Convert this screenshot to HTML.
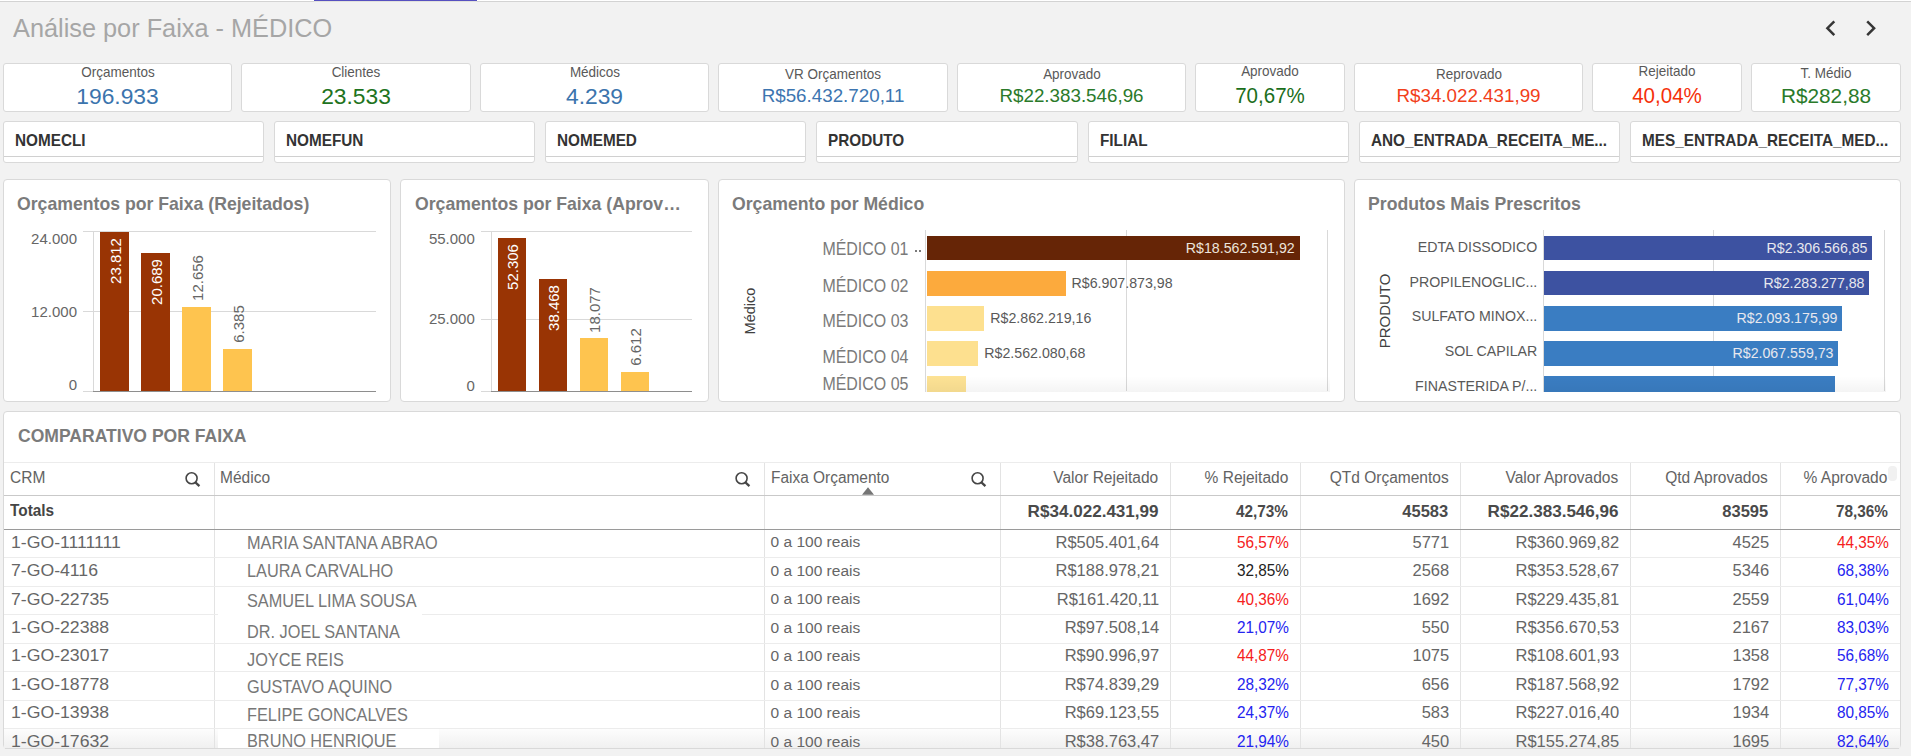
<!DOCTYPE html>
<html><head><meta charset="utf-8"><style>
html,body{margin:0;padding:0;}
body{width:1911px;height:756px;overflow:hidden;background:#f2f2f2;position:relative;font-family:"Liberation Sans", sans-serif;}
.t{position:absolute;white-space:nowrap;line-height:1;}
.r{position:absolute;}
.bx{position:absolute;box-sizing:border-box;background:#fff;border:1px solid #d9d9d9;border-radius:3px;}
</style></head><body>
<div class="r" style="left:0.00px;top:0.00px;width:1911.00px;height:1.00px;background:#ffffff;"></div>
<div class="r" style="left:0.00px;top:1.00px;width:1911.00px;height:1.00px;background:#d3d3d3;"></div>
<div class="r" style="left:314.00px;top:0.00px;width:163.00px;height:1.00px;background:#5650c0;"></div>
<div class="r" style="left:314.00px;top:1.00px;width:163.00px;height:1.00px;background:#e2e2dc;"></div>
<div class="t" style="top:14.56px;font-family:'Liberation Sans', sans-serif;font-size:26.5px;color:#a6a6a6;left:13.00px;transform:scaleX(0.955);transform-origin:left;">Análise por Faixa - MÉDICO</div>
<svg class="r" style="left:1815px;top:10px" width="70" height="35" viewBox="1815 10 70 35"><path d="M1834.3 21.3 L1827.4 28.2 L1834.3 35.1" fill="none" stroke="#363636" stroke-width="2.5"/><path d="M1867.2 21.3 L1874.1 28.2 L1867.2 35.1" fill="none" stroke="#363636" stroke-width="2.5"/></svg>
<div class="bx" style="left:3px;top:63px;width:229px;height:49px;"></div>
<div class="t" style="top:65.42px;font-family:'Liberation Sans', sans-serif;font-size:14.5px;color:#595959;left:-482.50px;width:1200px;text-align:center;transform:scaleX(0.93);transform-origin:center;">Orçamentos</div>
<div class="t" style="top:85.20px;font-family:'Liberation Sans', sans-serif;font-size:22.8px;color:#3b74ad;left:-482.50px;width:1200px;text-align:center;">196.933</div>
<div class="bx" style="left:241px;top:63px;width:230px;height:49px;"></div>
<div class="t" style="top:65.42px;font-family:'Liberation Sans', sans-serif;font-size:14.5px;color:#595959;left:-244.00px;width:1200px;text-align:center;transform:scaleX(0.93);transform-origin:center;">Clientes</div>
<div class="t" style="top:85.20px;font-family:'Liberation Sans', sans-serif;font-size:22.8px;color:#1e7320;left:-244.00px;width:1200px;text-align:center;">23.533</div>
<div class="bx" style="left:480px;top:63px;width:229px;height:49px;"></div>
<div class="t" style="top:65.42px;font-family:'Liberation Sans', sans-serif;font-size:14.5px;color:#595959;left:-5.50px;width:1200px;text-align:center;transform:scaleX(0.93);transform-origin:center;">Médicos</div>
<div class="t" style="top:85.20px;font-family:'Liberation Sans', sans-serif;font-size:22.8px;color:#3b74ad;left:-5.50px;width:1200px;text-align:center;">4.239</div>
<div class="bx" style="left:718px;top:63px;width:230px;height:49px;"></div>
<div class="t" style="top:67.32px;font-family:'Liberation Sans', sans-serif;font-size:14.5px;color:#595959;left:233.00px;width:1200px;text-align:center;transform:scaleX(0.93);transform-origin:center;">VR Orçamentos</div>
<div class="t" style="top:86.88px;font-family:'Liberation Sans', sans-serif;font-size:18.8px;color:#3d75b0;left:233.00px;width:1200px;text-align:center;">R$56.432.720,11</div>
<div class="bx" style="left:957px;top:63px;width:229px;height:49px;"></div>
<div class="t" style="top:67.32px;font-family:'Liberation Sans', sans-serif;font-size:14.5px;color:#595959;left:471.50px;width:1200px;text-align:center;transform:scaleX(0.93);transform-origin:center;">Aprovado</div>
<div class="t" style="top:86.68px;font-family:'Liberation Sans', sans-serif;font-size:18.8px;color:#2a7a2a;left:471.50px;width:1200px;text-align:center;">R$22.383.546,96</div>
<div class="bx" style="left:1195px;top:63px;width:150px;height:49px;"></div>
<div class="t" style="top:64.42px;font-family:'Liberation Sans', sans-serif;font-size:14.5px;color:#595959;left:670.00px;width:1200px;text-align:center;transform:scaleX(0.93);transform-origin:center;">Aprovado</div>
<div class="t" style="top:84.20px;font-family:'Liberation Sans', sans-serif;font-size:22.8px;color:#1b6e1b;left:670.00px;width:1200px;text-align:center;transform:scaleX(0.9);transform-origin:center;">70,67%</div>
<div class="bx" style="left:1354px;top:63px;width:229px;height:49px;"></div>
<div class="t" style="top:67.32px;font-family:'Liberation Sans', sans-serif;font-size:14.5px;color:#595959;left:868.50px;width:1200px;text-align:center;transform:scaleX(0.93);transform-origin:center;">Reprovado</div>
<div class="t" style="top:86.68px;font-family:'Liberation Sans', sans-serif;font-size:18.8px;color:#f2401a;left:868.50px;width:1200px;text-align:center;">R$34.022.431,99</div>
<div class="bx" style="left:1592px;top:63px;width:150px;height:49px;"></div>
<div class="t" style="top:64.42px;font-family:'Liberation Sans', sans-serif;font-size:14.5px;color:#595959;left:1067.00px;width:1200px;text-align:center;transform:scaleX(0.93);transform-origin:center;">Rejeitado</div>
<div class="t" style="top:84.20px;font-family:'Liberation Sans', sans-serif;font-size:22.8px;color:#f5300a;left:1067.00px;width:1200px;text-align:center;transform:scaleX(0.9);transform-origin:center;">40,04%</div>
<div class="bx" style="left:1751px;top:63px;width:150px;height:49px;"></div>
<div class="t" style="top:66.42px;font-family:'Liberation Sans', sans-serif;font-size:14.5px;color:#595959;left:1226.00px;width:1200px;text-align:center;transform:scaleX(0.93);transform-origin:center;">T. Médio</div>
<div class="t" style="top:86.19px;font-family:'Liberation Sans', sans-serif;font-size:20.8px;color:#2a7a2a;left:1226.00px;width:1200px;text-align:center;">R$282,88</div>
<div class="bx" style="left:3px;top:121px;width:261px;height:42px;"></div>
<div class="r" style="left:4.00px;top:156.00px;width:259.00px;height:1.00px;background:#d0d0d0;"></div>
<div class="t" style="top:131.80px;font-family:'Liberation Sans', sans-serif;font-size:16.3px;color:#333333;font-weight:bold;left:14.50px;transform:scaleX(0.94);transform-origin:left;">NOMECLI</div>
<div class="bx" style="left:274px;top:121px;width:261px;height:42px;"></div>
<div class="r" style="left:275.00px;top:156.00px;width:259.00px;height:1.00px;background:#d0d0d0;"></div>
<div class="t" style="top:131.80px;font-family:'Liberation Sans', sans-serif;font-size:16.3px;color:#333333;font-weight:bold;left:285.50px;transform:scaleX(0.94);transform-origin:left;">NOMEFUN</div>
<div class="bx" style="left:545px;top:121px;width:261px;height:42px;"></div>
<div class="r" style="left:546.00px;top:156.00px;width:259.00px;height:1.00px;background:#d0d0d0;"></div>
<div class="t" style="top:131.80px;font-family:'Liberation Sans', sans-serif;font-size:16.3px;color:#333333;font-weight:bold;left:556.50px;transform:scaleX(0.94);transform-origin:left;">NOMEMED</div>
<div class="bx" style="left:816px;top:121px;width:262px;height:42px;"></div>
<div class="r" style="left:817.00px;top:156.00px;width:260.00px;height:1.00px;background:#d0d0d0;"></div>
<div class="t" style="top:131.80px;font-family:'Liberation Sans', sans-serif;font-size:16.3px;color:#333333;font-weight:bold;left:827.50px;transform:scaleX(0.94);transform-origin:left;">PRODUTO</div>
<div class="bx" style="left:1088px;top:121px;width:261px;height:42px;"></div>
<div class="r" style="left:1089.00px;top:156.00px;width:259.00px;height:1.00px;background:#d0d0d0;"></div>
<div class="t" style="top:131.80px;font-family:'Liberation Sans', sans-serif;font-size:16.3px;color:#333333;font-weight:bold;left:1099.50px;transform:scaleX(0.94);transform-origin:left;">FILIAL</div>
<div class="bx" style="left:1359px;top:121px;width:261px;height:42px;"></div>
<div class="r" style="left:1360.00px;top:156.00px;width:259.00px;height:1.00px;background:#d0d0d0;"></div>
<div class="t" style="top:131.80px;font-family:'Liberation Sans', sans-serif;font-size:16.3px;color:#333333;font-weight:bold;left:1370.50px;transform:scaleX(0.94);transform-origin:left;">ANO_ENTRADA_RECEITA_ME...</div>
<div class="bx" style="left:1630px;top:121px;width:271px;height:42px;"></div>
<div class="r" style="left:1631.00px;top:156.00px;width:269.00px;height:1.00px;background:#d0d0d0;"></div>
<div class="t" style="top:131.80px;font-family:'Liberation Sans', sans-serif;font-size:16.3px;color:#333333;font-weight:bold;left:1641.50px;transform:scaleX(0.94);transform-origin:left;">MES_ENTRADA_RECEITA_MED...</div>
<div class="bx" style="left:3px;top:179px;width:388px;height:223px;border-radius:4px;"></div>
<div class="bx" style="left:400px;top:179px;width:309px;height:223px;border-radius:4px;"></div>
<div class="bx" style="left:718px;top:179px;width:627px;height:223px;border-radius:4px;"></div>
<div class="bx" style="left:1354px;top:179px;width:547px;height:223px;border-radius:4px;"></div>
<div class="t" style="top:195.14px;font-family:'Liberation Sans', sans-serif;font-size:18.5px;color:#7b7b7b;font-weight:bold;left:17.00px;transform:scaleX(0.954);transform-origin:left;">Orçamentos por Faixa (Rejeitados)</div>
<div class="r" style="left:83.00px;top:230.50px;width:293.00px;height:1.00px;background:#d9d9d9;"></div>
<div class="r" style="left:83.00px;top:311.40px;width:293.00px;height:1.00px;background:#d9d9d9;"></div>
<div class="r" style="left:93.00px;top:230.50px;width:1.00px;height:160.90px;background:#d9d9d9;"></div>
<div class="r" style="left:83.00px;top:391.40px;width:10.00px;height:1.00px;background:#d9d9d9;"></div>
<div class="r" style="left:93.00px;top:391.40px;width:283.00px;height:1.00px;background:#8e8e8e;"></div>
<div class="t" style="top:230.90px;font-family:'Liberation Sans', sans-serif;font-size:15px;color:#666666;right:1834.00px;">24.000</div>
<div class="t" style="top:304.00px;font-family:'Liberation Sans', sans-serif;font-size:15px;color:#666666;right:1834.00px;">12.000</div>
<div class="t" style="top:377.00px;font-family:'Liberation Sans', sans-serif;font-size:15px;color:#666666;right:1834.00px;">0</div>
<div class="r" style="left:100.00px;top:231.76px;width:29.00px;height:159.64px;background:#993404;"></div>
<div class="t" style="left:114.50px;top:260.71px;font-family:'Liberation Sans', sans-serif;font-size:15px;color:#ffffff;transform:translate(-50%,-50%) rotate(-90deg);">23.812</div>
<div class="r" style="left:141.00px;top:252.70px;width:29.00px;height:138.70px;background:#993404;"></div>
<div class="t" style="left:155.50px;top:281.65px;font-family:'Liberation Sans', sans-serif;font-size:15px;color:#ffffff;transform:translate(-50%,-50%) rotate(-90deg);">20.689</div>
<div class="r" style="left:182.00px;top:306.55px;width:29.00px;height:84.85px;background:#fec44f;"></div>
<div class="t" style="left:196.50px;top:277.60px;font-family:'Liberation Sans', sans-serif;font-size:15px;color:#666666;transform:translate(-50%,-50%) rotate(-90deg);">12.656</div>
<div class="r" style="left:223.00px;top:348.59px;width:29.00px;height:42.81px;background:#fec44f;"></div>
<div class="t" style="left:237.50px;top:323.81px;font-family:'Liberation Sans', sans-serif;font-size:15px;color:#666666;transform:translate(-50%,-50%) rotate(-90deg);">6.385</div>
<div class="t" style="top:195.14px;font-family:'Liberation Sans', sans-serif;font-size:18.5px;color:#7b7b7b;font-weight:bold;left:415.00px;transform:scaleX(0.954);transform-origin:left;">Orçamentos por Faixa (Aprov…</div>
<div class="r" style="left:481.00px;top:230.50px;width:211.00px;height:1.00px;background:#d9d9d9;"></div>
<div class="r" style="left:481.00px;top:319.20px;width:211.00px;height:1.00px;background:#d9d9d9;"></div>
<div class="r" style="left:491.00px;top:230.50px;width:1.00px;height:160.80px;background:#d9d9d9;"></div>
<div class="r" style="left:481.00px;top:391.30px;width:10.00px;height:1.00px;background:#d9d9d9;"></div>
<div class="r" style="left:491.00px;top:391.30px;width:201.00px;height:1.00px;background:#8e8e8e;"></div>
<div class="t" style="top:231.30px;font-family:'Liberation Sans', sans-serif;font-size:15px;color:#666666;right:1436.20px;">55.000</div>
<div class="t" style="top:311.10px;font-family:'Liberation Sans', sans-serif;font-size:15px;color:#666666;right:1436.20px;">25.000</div>
<div class="t" style="top:377.70px;font-family:'Liberation Sans', sans-serif;font-size:15px;color:#666666;right:1436.20px;">0</div>
<div class="r" style="left:497.50px;top:238.38px;width:28.00px;height:152.92px;background:#993404;"></div>
<div class="t" style="left:511.50px;top:267.33px;font-family:'Liberation Sans', sans-serif;font-size:15px;color:#ffffff;transform:translate(-50%,-50%) rotate(-90deg);">52.306</div>
<div class="r" style="left:538.50px;top:278.83px;width:28.00px;height:112.47px;background:#993404;"></div>
<div class="t" style="left:552.50px;top:307.78px;font-family:'Liberation Sans', sans-serif;font-size:15px;color:#ffffff;transform:translate(-50%,-50%) rotate(-90deg);">38.468</div>
<div class="r" style="left:579.50px;top:338.45px;width:28.00px;height:52.85px;background:#fec44f;"></div>
<div class="t" style="left:593.50px;top:309.50px;font-family:'Liberation Sans', sans-serif;font-size:15px;color:#666666;transform:translate(-50%,-50%) rotate(-90deg);">18.077</div>
<div class="r" style="left:621.00px;top:371.97px;width:28.00px;height:19.33px;background:#fec44f;"></div>
<div class="t" style="left:635.00px;top:347.19px;font-family:'Liberation Sans', sans-serif;font-size:15px;color:#666666;transform:translate(-50%,-50%) rotate(-90deg);">6.612</div>
<div class="t" style="top:195.14px;font-family:'Liberation Sans', sans-serif;font-size:18.5px;color:#7b7b7b;font-weight:bold;left:732.00px;transform:scaleX(0.954);transform-origin:left;">Orçamento por Médico</div>
<div class="t" style="left:749.80px;top:311.00px;font-family:'Liberation Sans', sans-serif;font-size:14.5px;color:#404040;transform:translate(-50%,-50%) rotate(-90deg);">Médico</div>
<div class="r" style="left:925.00px;top:230.30px;width:1.00px;height:161.70px;background:#d9d9d9;"></div>
<div class="r" style="left:1126.20px;top:230.30px;width:1.00px;height:161.00px;background:#d9d9d9;"></div>
<div class="r" style="left:1327.40px;top:230.30px;width:1.00px;height:161.00px;background:#d9d9d9;"></div>
<div class="t" style="top:239.11px;font-family:'Liberation Sans', sans-serif;font-size:19px;color:#7a7a7a;right:1003.00px;transform:scaleX(0.84);transform-origin:right;">MÉDICO 01</div>
<div class="r" style="left:927.00px;top:236.20px;width:372.70px;height:24.30px;background:#662506;"></div>
<div class="t" style="top:241.13px;font-family:'Liberation Sans', sans-serif;font-size:14.2px;color:#ece4dc;right:616.30px;">R$18.562.591,92</div>
<div class="t" style="top:275.81px;font-family:'Liberation Sans', sans-serif;font-size:19px;color:#7a7a7a;right:1003.00px;transform:scaleX(0.84);transform-origin:right;">MÉDICO 02</div>
<div class="r" style="left:927.00px;top:271.20px;width:138.60px;height:24.50px;background:#fcaa3d;"></div>
<div class="t" style="top:276.23px;font-family:'Liberation Sans', sans-serif;font-size:14.2px;color:#595959;left:1071.60px;">R$6.907.873,98</div>
<div class="t" style="top:310.61px;font-family:'Liberation Sans', sans-serif;font-size:19px;color:#7a7a7a;right:1003.00px;transform:scaleX(0.84);transform-origin:right;">MÉDICO 03</div>
<div class="r" style="left:927.00px;top:306.20px;width:57.30px;height:24.50px;background:#fde08f;"></div>
<div class="t" style="top:311.23px;font-family:'Liberation Sans', sans-serif;font-size:14.2px;color:#595959;left:990.30px;">R$2.862.219,16</div>
<div class="t" style="top:346.81px;font-family:'Liberation Sans', sans-serif;font-size:19px;color:#7a7a7a;right:1003.00px;transform:scaleX(0.84);transform-origin:right;">MÉDICO 04</div>
<div class="r" style="left:927.00px;top:341.00px;width:51.30px;height:24.70px;background:#fde08f;"></div>
<div class="t" style="top:346.13px;font-family:'Liberation Sans', sans-serif;font-size:14.2px;color:#595959;left:984.30px;">R$2.562.080,68</div>
<div class="t" style="top:374.11px;font-family:'Liberation Sans', sans-serif;font-size:19px;color:#7a7a7a;right:1003.00px;transform:scaleX(0.84);transform-origin:right;">MÉDICO 05</div>
<div class="r" style="left:927.00px;top:376.00px;width:38.70px;height:16.00px;background:#fde294;"></div>
<div class="r" style="left:915.00px;top:249.50px;width:2.00px;height:2.00px;background:#7a7a7a;"></div>
<div class="r" style="left:919.00px;top:249.50px;width:2.00px;height:2.00px;background:#7a7a7a;"></div>
<div class="t" style="top:195.14px;font-family:'Liberation Sans', sans-serif;font-size:18.5px;color:#7b7b7b;font-weight:bold;left:1368.00px;transform:scaleX(0.954);transform-origin:left;">Produtos Mais Prescritos</div>
<div class="t" style="left:1384.40px;top:311.40px;font-family:'Liberation Sans', sans-serif;font-size:15px;color:#404040;transform:translate(-50%,-50%) rotate(-90deg);">PRODUTO</div>
<div class="r" style="left:1542.50px;top:230.30px;width:1.00px;height:161.70px;background:#d9d9d9;"></div>
<div class="r" style="left:1713.00px;top:230.30px;width:1.00px;height:161.00px;background:#d9d9d9;"></div>
<div class="r" style="left:1884.40px;top:230.30px;width:1.00px;height:161.00px;background:#d9d9d9;"></div>
<div class="t" style="top:239.78px;font-family:'Liberation Sans', sans-serif;font-size:14.2px;color:#595959;right:373.70px;">EDTA DISSODICO</div>
<div class="r" style="left:1544.00px;top:235.90px;width:328.00px;height:24.50px;background:#3d52a1;"></div>
<div class="t" style="top:240.93px;font-family:'Liberation Sans', sans-serif;font-size:14.2px;color:#e8e8ee;right:43.50px;">R$2.306.566,85</div>
<div class="t" style="top:274.78px;font-family:'Liberation Sans', sans-serif;font-size:14.2px;color:#595959;right:373.70px;">PROPILENOGLIC...</div>
<div class="r" style="left:1544.00px;top:270.90px;width:325.00px;height:24.50px;background:#3d52a1;"></div>
<div class="t" style="top:275.93px;font-family:'Liberation Sans', sans-serif;font-size:14.2px;color:#e8e8ee;right:46.50px;">R$2.283.277,88</div>
<div class="t" style="top:309.48px;font-family:'Liberation Sans', sans-serif;font-size:14.2px;color:#595959;right:373.70px;">SULFATO MINOX...</div>
<div class="r" style="left:1544.00px;top:306.10px;width:298.00px;height:24.50px;background:#3a7dc2;"></div>
<div class="t" style="top:311.13px;font-family:'Liberation Sans', sans-serif;font-size:14.2px;color:#e8e8ee;right:73.50px;">R$2.093.175,99</div>
<div class="t" style="top:344.48px;font-family:'Liberation Sans', sans-serif;font-size:14.2px;color:#595959;right:373.70px;">SOL CAPILAR</div>
<div class="r" style="left:1544.00px;top:341.10px;width:294.00px;height:24.50px;background:#3a7dc2;"></div>
<div class="t" style="top:346.13px;font-family:'Liberation Sans', sans-serif;font-size:14.2px;color:#e8e8ee;right:77.50px;">R$2.067.559,73</div>
<div class="t" style="top:379.28px;font-family:'Liberation Sans', sans-serif;font-size:14.2px;color:#595959;right:373.70px;">FINASTERIDA P/...</div>
<div class="r" style="left:1544.00px;top:376.10px;width:290.60px;height:15.90px;background:#3a7dc2;"></div>
<div class="r" style="left:926.00px;top:376.00px;width:404.00px;height:16.00px;background:linear-gradient(rgba(255,255,255,0),rgba(0,0,0,0.045));"></div>
<div class="r" style="left:1544.00px;top:376.00px;width:342.00px;height:16.00px;background:linear-gradient(rgba(255,255,255,0),rgba(0,0,0,0.045));"></div>
<div class="bx" style="left:3px;top:411px;width:1898px;height:338px;border-radius:4px;"></div>
<div class="t" style="top:427.29px;font-family:'Liberation Sans', sans-serif;font-size:18.2px;color:#7b7b7b;font-weight:bold;left:17.50px;transform:scaleX(0.965);transform-origin:left;">COMPARATIVO POR FAIXA</div>
<div class="r" style="left:4.00px;top:729.00px;width:1896.00px;height:19.00px;background:linear-gradient(#fdfdfd,#f0f0f0);"></div>
<div class="r" style="left:218.00px;top:729.00px;width:221.00px;height:19.00px;background:#ffffff;"></div>
<div class="r" style="left:214.00px;top:462.00px;width:1.00px;height:286.00px;background:#e3e3e3;"></div>
<div class="r" style="left:764.00px;top:462.00px;width:1.00px;height:286.00px;background:#e3e3e3;"></div>
<div class="r" style="left:1000.00px;top:462.00px;width:1.00px;height:286.00px;background:#e3e3e3;"></div>
<div class="r" style="left:1170.00px;top:462.00px;width:1.00px;height:286.00px;background:#e3e3e3;"></div>
<div class="r" style="left:1300.00px;top:462.00px;width:1.00px;height:286.00px;background:#e3e3e3;"></div>
<div class="r" style="left:1460.00px;top:462.00px;width:1.00px;height:286.00px;background:#e3e3e3;"></div>
<div class="r" style="left:1630.00px;top:462.00px;width:1.00px;height:286.00px;background:#e3e3e3;"></div>
<div class="r" style="left:1780.00px;top:462.00px;width:1.00px;height:286.00px;background:#e3e3e3;"></div>
<div class="r" style="left:4.00px;top:462.00px;width:1896.00px;height:1.00px;background:#ececec;"></div>
<div class="r" style="left:4.00px;top:495.00px;width:1896.00px;height:1.00px;background:#c9c9c9;"></div>
<div class="r" style="left:4.00px;top:529.00px;width:1896.00px;height:1.00px;background:#9a9a9a;"></div>
<div class="r" style="left:4.00px;top:557.45px;width:1896.00px;height:1.00px;background:#ececec;"></div>
<div class="r" style="left:4.00px;top:585.90px;width:1896.00px;height:1.00px;background:#ececec;"></div>
<div class="r" style="left:4.00px;top:614.35px;width:1896.00px;height:1.00px;background:#ececec;"></div>
<div class="r" style="left:4.00px;top:642.80px;width:1896.00px;height:1.00px;background:#ececec;"></div>
<div class="r" style="left:4.00px;top:671.25px;width:1896.00px;height:1.00px;background:#ececec;"></div>
<div class="r" style="left:4.00px;top:699.70px;width:1896.00px;height:1.00px;background:#ececec;"></div>
<div class="r" style="left:4.00px;top:728.15px;width:1896.00px;height:1.00px;background:#ececec;"></div>
<div class="t" style="top:470.45px;font-family:'Liberation Sans', sans-serif;font-size:16px;color:#636363;left:10.30px;transform:scaleX(0.97);transform-origin:left;">CRM</div>
<svg class="r" style="left:181.5px;top:469.4px" width="20" height="20" viewBox="-10 -10 20 20"><circle cx="-0.4" cy="-0.7" r="5.5" fill="none" stroke="#454545" stroke-width="1.6"/><path d="M3.4 3.4 L7.4 7.1" stroke="#454545" stroke-width="2.3" stroke-linecap="butt"/></svg>
<div class="t" style="top:470.45px;font-family:'Liberation Sans', sans-serif;font-size:16px;color:#636363;left:220.00px;transform:scaleX(0.97);transform-origin:left;">Médico</div>
<svg class="r" style="left:731.9px;top:469.4px" width="20" height="20" viewBox="-10 -10 20 20"><circle cx="-0.4" cy="-0.7" r="5.5" fill="none" stroke="#454545" stroke-width="1.6"/><path d="M3.4 3.4 L7.4 7.1" stroke="#454545" stroke-width="2.3" stroke-linecap="butt"/></svg>
<div class="t" style="top:470.45px;font-family:'Liberation Sans', sans-serif;font-size:16px;color:#636363;left:770.60px;transform:scaleX(0.965);transform-origin:left;">Faixa Orçamento</div>
<svg class="r" style="left:968.2px;top:469.4px" width="20" height="20" viewBox="-10 -10 20 20"><circle cx="-0.4" cy="-0.7" r="5.5" fill="none" stroke="#454545" stroke-width="1.6"/><path d="M3.4 3.4 L7.4 7.1" stroke="#454545" stroke-width="2.3" stroke-linecap="butt"/></svg>
<svg class="r" style="left:860px;top:486px" width="16" height="10" viewBox="860 486 16 10"><path d="M868 487.3 L874 494.8 L862 494.8 Z" fill="#757575"/></svg>
<div class="t" style="top:470.45px;font-family:'Liberation Sans', sans-serif;font-size:16px;color:#636363;right:752.80px;transform:scaleX(0.97);transform-origin:right;">Valor Rejeitado</div>
<div class="t" style="top:470.45px;font-family:'Liberation Sans', sans-serif;font-size:16px;color:#636363;right:622.80px;transform:scaleX(0.97);transform-origin:right;">% Rejeitado</div>
<div class="t" style="top:470.45px;font-family:'Liberation Sans', sans-serif;font-size:16px;color:#636363;right:462.80px;transform:scaleX(0.97);transform-origin:right;">QTd Orçamentos</div>
<div class="t" style="top:470.45px;font-family:'Liberation Sans', sans-serif;font-size:16px;color:#636363;right:292.80px;transform:scaleX(0.97);transform-origin:right;">Valor Aprovados</div>
<div class="t" style="top:470.45px;font-family:'Liberation Sans', sans-serif;font-size:16px;color:#636363;right:142.80px;transform:scaleX(0.97);transform-origin:right;">Qtd Aprovados</div>
<div class="t" style="top:470.45px;font-family:'Liberation Sans', sans-serif;font-size:16px;color:#636363;right:23.30px;transform:scaleX(0.97);transform-origin:right;">% Aprovado</div>
<div class="r" style="left:1887.50px;top:466.00px;width:9.50px;height:14.50px;background:#f1f1f1;border-radius:4px;"></div>
<div class="t" style="top:503.25px;font-family:'Liberation Sans', sans-serif;font-size:16px;color:#454545;font-weight:bold;left:10.30px;transform:scaleX(0.96);transform-origin:left;">Totals</div>
<div class="t" style="top:502.83px;font-family:'Liberation Sans', sans-serif;font-size:16.5px;color:#4a4a4a;font-weight:bold;right:752.80px;transform:scaleX(1.035);transform-origin:right;">R$34.022.431,99</div>
<div class="t" style="top:502.83px;font-family:'Liberation Sans', sans-serif;font-size:16.5px;color:#4a4a4a;font-weight:bold;right:622.80px;transform:scaleX(0.93);transform-origin:right;">42,73%</div>
<div class="t" style="top:502.83px;font-family:'Liberation Sans', sans-serif;font-size:16.5px;color:#4a4a4a;font-weight:bold;right:462.80px;">45583</div>
<div class="t" style="top:502.83px;font-family:'Liberation Sans', sans-serif;font-size:16.5px;color:#4a4a4a;font-weight:bold;right:292.80px;transform:scaleX(1.035);transform-origin:right;">R$22.383.546,96</div>
<div class="t" style="top:502.83px;font-family:'Liberation Sans', sans-serif;font-size:16.5px;color:#4a4a4a;font-weight:bold;right:142.80px;">83595</div>
<div class="t" style="top:502.83px;font-family:'Liberation Sans', sans-serif;font-size:16.5px;color:#4a4a4a;font-weight:bold;right:23.30px;transform:scaleX(0.93);transform-origin:right;">78,36%</div>
<div class="r" style="left:218.00px;top:614.00px;width:204.00px;height:2.00px;background:#ffffff;"></div>
<div class="t" style="top:533.63px;font-family:'Liberation Sans', sans-serif;font-size:16.5px;color:#666666;left:11.00px;transform:scaleX(1.07);transform-origin:left;">1-GO-1111111</div>
<div class="t" style="top:534.06px;font-family:'Liberation Sans', sans-serif;font-size:18px;color:#777777;left:247.30px;transform:scaleX(0.905);transform-origin:left;">MARIA SANTANA ABRAO</div>
<div class="t" style="top:534.48px;font-family:'Liberation Sans', sans-serif;font-size:15.5px;color:#666666;left:770.60px;">0 a 100 reais</div>
<div class="t" style="top:533.63px;font-family:'Liberation Sans', sans-serif;font-size:16.5px;color:#666666;right:751.80px;">R$505.401,64</div>
<div class="t" style="top:533.63px;font-family:'Liberation Sans', sans-serif;font-size:16.5px;color:#f52020;right:621.80px;transform:scaleX(0.93);transform-origin:right;">56,57%</div>
<div class="t" style="top:533.63px;font-family:'Liberation Sans', sans-serif;font-size:16.5px;color:#666666;right:461.80px;">5771</div>
<div class="t" style="top:533.63px;font-family:'Liberation Sans', sans-serif;font-size:16.5px;color:#666666;right:291.80px;">R$360.969,82</div>
<div class="t" style="top:533.63px;font-family:'Liberation Sans', sans-serif;font-size:16.5px;color:#666666;right:141.80px;">4525</div>
<div class="t" style="top:533.63px;font-family:'Liberation Sans', sans-serif;font-size:16.5px;color:#f52020;right:22.30px;transform:scaleX(0.93);transform-origin:right;">44,35%</div>
<div class="t" style="top:562.08px;font-family:'Liberation Sans', sans-serif;font-size:16.5px;color:#666666;left:11.00px;transform:scaleX(1.07);transform-origin:left;">7-GO-4116</div>
<div class="t" style="top:562.26px;font-family:'Liberation Sans', sans-serif;font-size:18px;color:#777777;left:247.30px;transform:scaleX(0.905);transform-origin:left;">LAURA CARVALHO</div>
<div class="t" style="top:562.93px;font-family:'Liberation Sans', sans-serif;font-size:15.5px;color:#666666;left:770.60px;">0 a 100 reais</div>
<div class="t" style="top:562.08px;font-family:'Liberation Sans', sans-serif;font-size:16.5px;color:#666666;right:751.80px;">R$188.978,21</div>
<div class="t" style="top:562.08px;font-family:'Liberation Sans', sans-serif;font-size:16.5px;color:#222222;right:621.80px;transform:scaleX(0.93);transform-origin:right;">32,85%</div>
<div class="t" style="top:562.08px;font-family:'Liberation Sans', sans-serif;font-size:16.5px;color:#666666;right:461.80px;">2568</div>
<div class="t" style="top:562.08px;font-family:'Liberation Sans', sans-serif;font-size:16.5px;color:#666666;right:291.80px;">R$353.528,67</div>
<div class="t" style="top:562.08px;font-family:'Liberation Sans', sans-serif;font-size:16.5px;color:#666666;right:141.80px;">5346</div>
<div class="t" style="top:562.08px;font-family:'Liberation Sans', sans-serif;font-size:16.5px;color:#2424f0;right:22.30px;transform:scaleX(0.93);transform-origin:right;">68,38%</div>
<div class="t" style="top:590.53px;font-family:'Liberation Sans', sans-serif;font-size:16.5px;color:#666666;left:11.00px;transform:scaleX(1.07);transform-origin:left;">7-GO-22735</div>
<div class="t" style="top:592.26px;font-family:'Liberation Sans', sans-serif;font-size:18px;color:#777777;left:247.30px;transform:scaleX(0.905);transform-origin:left;">SAMUEL LIMA SOUSA</div>
<div class="t" style="top:591.38px;font-family:'Liberation Sans', sans-serif;font-size:15.5px;color:#666666;left:770.60px;">0 a 100 reais</div>
<div class="t" style="top:590.53px;font-family:'Liberation Sans', sans-serif;font-size:16.5px;color:#666666;right:751.80px;">R$161.420,11</div>
<div class="t" style="top:590.53px;font-family:'Liberation Sans', sans-serif;font-size:16.5px;color:#f52020;right:621.80px;transform:scaleX(0.93);transform-origin:right;">40,36%</div>
<div class="t" style="top:590.53px;font-family:'Liberation Sans', sans-serif;font-size:16.5px;color:#666666;right:461.80px;">1692</div>
<div class="t" style="top:590.53px;font-family:'Liberation Sans', sans-serif;font-size:16.5px;color:#666666;right:291.80px;">R$229.435,81</div>
<div class="t" style="top:590.53px;font-family:'Liberation Sans', sans-serif;font-size:16.5px;color:#666666;right:141.80px;">2559</div>
<div class="t" style="top:590.53px;font-family:'Liberation Sans', sans-serif;font-size:16.5px;color:#2424f0;right:22.30px;transform:scaleX(0.93);transform-origin:right;">61,04%</div>
<div class="t" style="top:618.98px;font-family:'Liberation Sans', sans-serif;font-size:16.5px;color:#666666;left:11.00px;transform:scaleX(1.07);transform-origin:left;">1-GO-22388</div>
<div class="t" style="top:623.06px;font-family:'Liberation Sans', sans-serif;font-size:18px;color:#777777;left:247.30px;transform:scaleX(0.905);transform-origin:left;">DR. JOEL SANTANA</div>
<div class="t" style="top:619.83px;font-family:'Liberation Sans', sans-serif;font-size:15.5px;color:#666666;left:770.60px;">0 a 100 reais</div>
<div class="t" style="top:618.98px;font-family:'Liberation Sans', sans-serif;font-size:16.5px;color:#666666;right:751.80px;">R$97.508,14</div>
<div class="t" style="top:618.98px;font-family:'Liberation Sans', sans-serif;font-size:16.5px;color:#2424f0;right:621.80px;transform:scaleX(0.93);transform-origin:right;">21,07%</div>
<div class="t" style="top:618.98px;font-family:'Liberation Sans', sans-serif;font-size:16.5px;color:#666666;right:461.80px;">550</div>
<div class="t" style="top:618.98px;font-family:'Liberation Sans', sans-serif;font-size:16.5px;color:#666666;right:291.80px;">R$356.670,53</div>
<div class="t" style="top:618.98px;font-family:'Liberation Sans', sans-serif;font-size:16.5px;color:#666666;right:141.80px;">2167</div>
<div class="t" style="top:618.98px;font-family:'Liberation Sans', sans-serif;font-size:16.5px;color:#2424f0;right:22.30px;transform:scaleX(0.93);transform-origin:right;">83,03%</div>
<div class="t" style="top:647.43px;font-family:'Liberation Sans', sans-serif;font-size:16.5px;color:#666666;left:11.00px;transform:scaleX(1.07);transform-origin:left;">1-GO-23017</div>
<div class="t" style="top:650.56px;font-family:'Liberation Sans', sans-serif;font-size:18px;color:#777777;left:247.30px;transform:scaleX(0.905);transform-origin:left;">JOYCE REIS</div>
<div class="t" style="top:648.28px;font-family:'Liberation Sans', sans-serif;font-size:15.5px;color:#666666;left:770.60px;">0 a 100 reais</div>
<div class="t" style="top:647.43px;font-family:'Liberation Sans', sans-serif;font-size:16.5px;color:#666666;right:751.80px;">R$90.996,97</div>
<div class="t" style="top:647.43px;font-family:'Liberation Sans', sans-serif;font-size:16.5px;color:#f52020;right:621.80px;transform:scaleX(0.93);transform-origin:right;">44,87%</div>
<div class="t" style="top:647.43px;font-family:'Liberation Sans', sans-serif;font-size:16.5px;color:#666666;right:461.80px;">1075</div>
<div class="t" style="top:647.43px;font-family:'Liberation Sans', sans-serif;font-size:16.5px;color:#666666;right:291.80px;">R$108.601,93</div>
<div class="t" style="top:647.43px;font-family:'Liberation Sans', sans-serif;font-size:16.5px;color:#666666;right:141.80px;">1358</div>
<div class="t" style="top:647.43px;font-family:'Liberation Sans', sans-serif;font-size:16.5px;color:#2424f0;right:22.30px;transform:scaleX(0.93);transform-origin:right;">56,68%</div>
<div class="t" style="top:675.88px;font-family:'Liberation Sans', sans-serif;font-size:16.5px;color:#666666;left:11.00px;transform:scaleX(1.07);transform-origin:left;">1-GO-18778</div>
<div class="t" style="top:678.46px;font-family:'Liberation Sans', sans-serif;font-size:18px;color:#777777;left:247.30px;transform:scaleX(0.905);transform-origin:left;">GUSTAVO AQUINO</div>
<div class="t" style="top:676.73px;font-family:'Liberation Sans', sans-serif;font-size:15.5px;color:#666666;left:770.60px;">0 a 100 reais</div>
<div class="t" style="top:675.88px;font-family:'Liberation Sans', sans-serif;font-size:16.5px;color:#666666;right:751.80px;">R$74.839,29</div>
<div class="t" style="top:675.88px;font-family:'Liberation Sans', sans-serif;font-size:16.5px;color:#2424f0;right:621.80px;transform:scaleX(0.93);transform-origin:right;">28,32%</div>
<div class="t" style="top:675.88px;font-family:'Liberation Sans', sans-serif;font-size:16.5px;color:#666666;right:461.80px;">656</div>
<div class="t" style="top:675.88px;font-family:'Liberation Sans', sans-serif;font-size:16.5px;color:#666666;right:291.80px;">R$187.568,92</div>
<div class="t" style="top:675.88px;font-family:'Liberation Sans', sans-serif;font-size:16.5px;color:#666666;right:141.80px;">1792</div>
<div class="t" style="top:675.88px;font-family:'Liberation Sans', sans-serif;font-size:16.5px;color:#2424f0;right:22.30px;transform:scaleX(0.93);transform-origin:right;">77,37%</div>
<div class="t" style="top:704.33px;font-family:'Liberation Sans', sans-serif;font-size:16.5px;color:#666666;left:11.00px;transform:scaleX(1.07);transform-origin:left;">1-GO-13938</div>
<div class="t" style="top:706.46px;font-family:'Liberation Sans', sans-serif;font-size:18px;color:#777777;left:247.30px;transform:scaleX(0.905);transform-origin:left;">FELIPE GONCALVES</div>
<div class="t" style="top:705.18px;font-family:'Liberation Sans', sans-serif;font-size:15.5px;color:#666666;left:770.60px;">0 a 100 reais</div>
<div class="t" style="top:704.33px;font-family:'Liberation Sans', sans-serif;font-size:16.5px;color:#666666;right:751.80px;">R$69.123,55</div>
<div class="t" style="top:704.33px;font-family:'Liberation Sans', sans-serif;font-size:16.5px;color:#2424f0;right:621.80px;transform:scaleX(0.93);transform-origin:right;">24,37%</div>
<div class="t" style="top:704.33px;font-family:'Liberation Sans', sans-serif;font-size:16.5px;color:#666666;right:461.80px;">583</div>
<div class="t" style="top:704.33px;font-family:'Liberation Sans', sans-serif;font-size:16.5px;color:#666666;right:291.80px;">R$227.016,40</div>
<div class="t" style="top:704.33px;font-family:'Liberation Sans', sans-serif;font-size:16.5px;color:#666666;right:141.80px;">1934</div>
<div class="t" style="top:704.33px;font-family:'Liberation Sans', sans-serif;font-size:16.5px;color:#2424f0;right:22.30px;transform:scaleX(0.93);transform-origin:right;">80,85%</div>
<div class="t" style="top:732.78px;font-family:'Liberation Sans', sans-serif;font-size:16.5px;color:#666666;left:11.00px;transform:scaleX(1.07);transform-origin:left;">1-GO-17632</div>
<div class="t" style="top:732.16px;font-family:'Liberation Sans', sans-serif;font-size:18px;color:#777777;left:247.30px;transform:scaleX(0.905);transform-origin:left;">BRUNO HENRIQUE</div>
<div class="t" style="top:733.63px;font-family:'Liberation Sans', sans-serif;font-size:15.5px;color:#666666;left:770.60px;">0 a 100 reais</div>
<div class="t" style="top:732.78px;font-family:'Liberation Sans', sans-serif;font-size:16.5px;color:#666666;right:751.80px;">R$38.763,47</div>
<div class="t" style="top:732.78px;font-family:'Liberation Sans', sans-serif;font-size:16.5px;color:#2424f0;right:621.80px;transform:scaleX(0.93);transform-origin:right;">21,94%</div>
<div class="t" style="top:732.78px;font-family:'Liberation Sans', sans-serif;font-size:16.5px;color:#666666;right:461.80px;">450</div>
<div class="t" style="top:732.78px;font-family:'Liberation Sans', sans-serif;font-size:16.5px;color:#666666;right:291.80px;">R$155.274,85</div>
<div class="t" style="top:732.78px;font-family:'Liberation Sans', sans-serif;font-size:16.5px;color:#666666;right:141.80px;">1695</div>
<div class="t" style="top:732.78px;font-family:'Liberation Sans', sans-serif;font-size:16.5px;color:#2424f0;right:22.30px;transform:scaleX(0.93);transform-origin:right;">82,64%</div>
<div class="r" style="left:5.00px;top:748.00px;width:1894.00px;height:1.00px;background:#d9d9d9;"></div>
<div class="r" style="left:0.00px;top:749.00px;width:1911.00px;height:7.00px;background:#f2f2f2;"></div>
</body></html>
